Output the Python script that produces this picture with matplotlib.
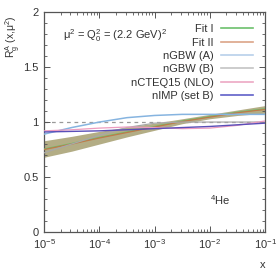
import numpy as np
import matplotlib
matplotlib.use("Agg")
import matplotlib.pyplot as plt
from matplotlib.ticker import MultipleLocator, LogLocator, NullFormatter

logx = [-5, -4.5, -4, -3.5, -3, -2.5, -2, -1.5, -1]
fit1 = [0.755, 0.805, 0.86, 0.91, 0.96, 1.01, 1.05, 1.09, 1.12]
fit2 = [0.75, 0.80, 0.855, 0.905, 0.955, 1.005, 1.045, 1.085, 1.115]
band_lo = [0.68, 0.735, 0.80, 0.865, 0.925, 0.985, 1.03, 1.06, 1.08]
band_hi = [0.83, 0.87, 0.915, 0.955, 0.99, 1.03, 1.07, 1.11, 1.15]
ngbw_a = [0.89, 0.95, 1.00, 1.04, 1.06, 1.07, 1.07, 1.07, 1.07]
ngbw_b = [0.72, 0.80, 0.88, 0.95, 0.99, 1.00, 1.00, 1.00, 1.00]
ncteq = [0.92, 0.93, 0.945, 0.955, 0.95, 0.94, 0.945, 0.97, 1.01]
nimp = [0.91, 0.915, 0.92, 0.93, 0.94, 0.95, 0.96, 0.975, 0.99]

x = 10.0 ** np.array(logx)

plt.rcParams['font.family'] = ['Liberation Sans', 'DejaVu Sans']
plt.rcParams['mathtext.fontset'] = 'custom'
plt.rcParams['mathtext.rm'] = 'Liberation Sans'
plt.rcParams['mathtext.it'] = 'Liberation Sans'
plt.rcParams['mathtext.bf'] = 'Liberation Sans:bold'

fig = plt.figure(figsize=(2.77, 2.69), dpi=100)
ax = fig.add_axes([0.159, 0.1375, 0.798, 0.8175])
fs = 8
tc = '#333333'

ax.fill_between(x, band_lo, band_hi, color='#b3ad85', lw=0, zorder=1)
ax.axhline(1.0, color='#999999', lw=0.9, ls=(0, (3, 3)), zorder=0)
ax.plot(x, fit1, color='#6cc06c', lw=0.9, label='Fit I', zorder=3)
ax.plot(x, fit2, color='#c07a4a', lw=0.9, label='Fit II', zorder=3)
ax.plot(x, ngbw_a, color='#86b4e0', lw=1.1, label='nGBW (A)', zorder=3)
ax.plot(x, ngbw_b, color='#a8a8a8', lw=0.9, label='nGBW (B)', zorder=3)
ax.plot(x, ncteq, color='#ec9cc0', lw=0.9, label='nCTEQ15 (NLO)', zorder=3)
ax.plot(x, nimp, color='#5a4fb8', lw=1.0, label='nIMP (set B)', zorder=3)

ax.set_xscale('log')
ax.set_xlim(1e-5, 1e-1)
ax.set_ylim(0, 2)
ax.yaxis.set_major_locator(MultipleLocator(0.5))
ax.yaxis.set_minor_locator(MultipleLocator(0.1))
ax.set_yticks([0, 0.5, 1, 1.5, 2])
ax.set_yticklabels(['0', '0.5', '1', '1.5', '2'])
ax.xaxis.set_minor_locator(LogLocator(base=10, subs=np.arange(2, 10)))
ax.xaxis.set_minor_formatter(NullFormatter())

ax.tick_params(which='both', direction='in', top=True, right=True,
               labelsize=fs, colors='#555555', labelcolor=tc)
ax.tick_params(which='major', length=4, width=0.7, pad=4)
ax.tick_params(which='minor', length=2, width=0.6)
for s in ax.spines.values():
    s.set_color('#555555')
    s.set_linewidth(0.9)

ax.set_xlabel('x', fontsize=fs, color=tc, loc='right', labelpad=6)
fig.text(13 / 277, 1 - 37 / 269, r'R$_g^A$ (x,μ$^2$)', fontsize=7.5, color=tc,
         rotation=90, ha='center', va='center')

ax.text(0.085, 0.895, r'μ$^2$ = Q$_0^2$ = (2.2 GeV)$^2$', transform=ax.transAxes,
        fontsize=fs, color=tc, va='center', ha='left')
ax.text(0.75, 0.145, r'$^4$He', transform=ax.transAxes, fontsize=fs, color=tc,
        va='center', ha='left')

leg = ax.legend(loc='upper right', frameon=False, fontsize=fs, markerfirst=False,
                handlelength=2.9, labelspacing=0.3, handletextpad=0.6,
                borderaxespad=0.9, borderpad=0.2, labelcolor=tc)
leg_colors = ['#6cc06c', '#dca488', '#b8d0ea', '#c4c4c4', '#eca8c4', '#6060c8']
for h, c in zip(leg.get_lines(), leg_colors):
    h.set_color(c)
    h.set_linewidth(1.2)

fig.savefig('out.png', dpi=100)
